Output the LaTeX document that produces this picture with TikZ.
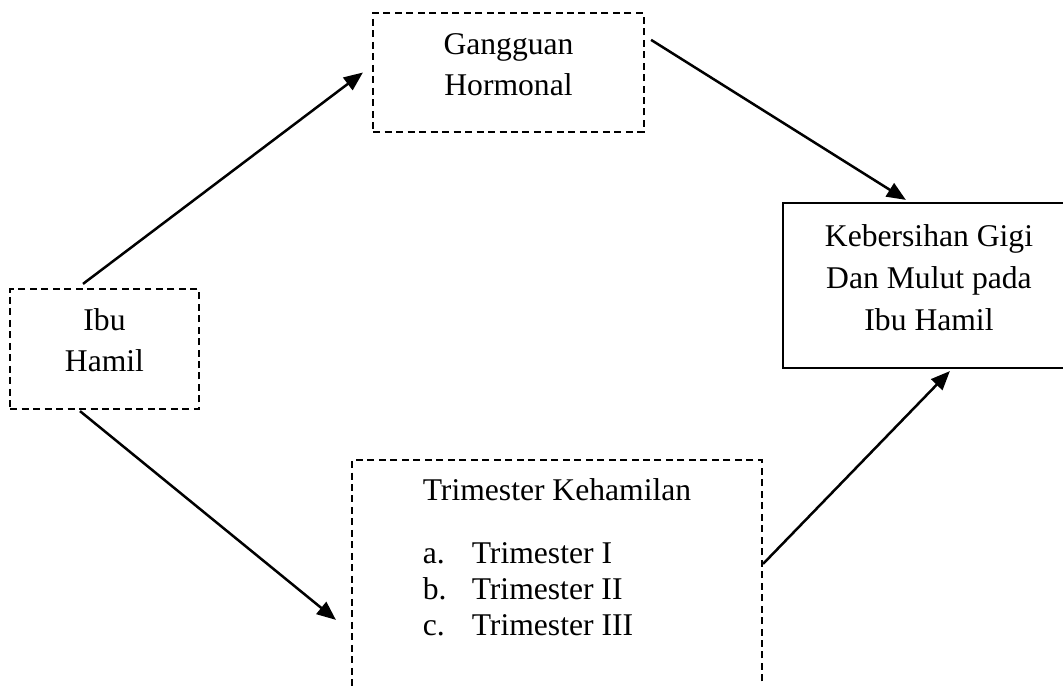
\documentclass[tikz,border=0pt]{standalone}
\usepackage{fontspec}
\setmainfont{Liberation Serif}
\usepackage{tikz}
\usetikzlibrary{arrows.meta}

\begin{document}
\begin{tikzpicture}[x=0.02cm, y=-0.02cm,
	dashbox/.style={draw, dashed, dash pattern=on 0.14cm off 0.09cm, line width=0.045cm, inner sep=0pt, align=center, font=\fontsize{18}{23.8}\selectfont},
	solidbox/.style={draw, line width=0.045cm, inner sep=0pt, align=center, font=\fontsize{18}{23.8}\selectfont},
	arr/.style={-{Triangle[length=0.38cm, width=0.31cm]}, line width=0.05cm}]

		\clip (0,0) rectangle (1063,686);

		% nodes %
		\node[dashbox, minimum width=3.78cm, text height=1.66cm, text depth=0.74cm] (ibu) at (104.5,349) {Ibu\\Hamil};
		\node[dashbox, minimum width=5.42cm, text height=1.66cm, text depth=0.72cm] (gangguan) at (508.5,72.5) {Gangguan\\Hormonal};
		\node[solidbox, minimum width=5.84cm, text height=2.55cm, text depth=0.75cm] (kebersihan) at (929,285.5) {Kebersihan Gigi\\Dan Mulut pada\\Ibu Hamil};
		\node[dashbox, align=left, font=\fontsize{18}{20.7}\selectfont, minimum width=8.2cm, text height=3.52cm, text depth=1.68cm] (trimester) at (557,590) {Trimester Kehamilan\\[0.53cm]
			\makebox[0.98cm][l]{a.}Trimester I\\
			\makebox[0.98cm][l]{b.}Trimester II\\
			\makebox[0.98cm][l]{c.}Trimester III};

		% edges %
		\draw[arr] ([xshift=-0.43cm, yshift=0.08cm]ibu.north) -- ([xshift=-0.18cm]gangguan.west);
		\draw[arr] ([xshift=0.12cm, yshift=-0.56cm]gangguan.north east) -- ([xshift=2.48cm, yshift=0.04cm]kebersihan.north west);
		\draw[arr] ([xshift=-0.49cm, yshift=-0.02cm]ibu.south) -- ([xshift=-0.3cm, yshift=-3.22cm]trimester.north west);
		\draw[arr] ([yshift=-2.1cm]trimester.north east) -- ([xshift=3.36cm, yshift=-0.04cm]kebersihan.south west);

\end{tikzpicture}
\end{document}
